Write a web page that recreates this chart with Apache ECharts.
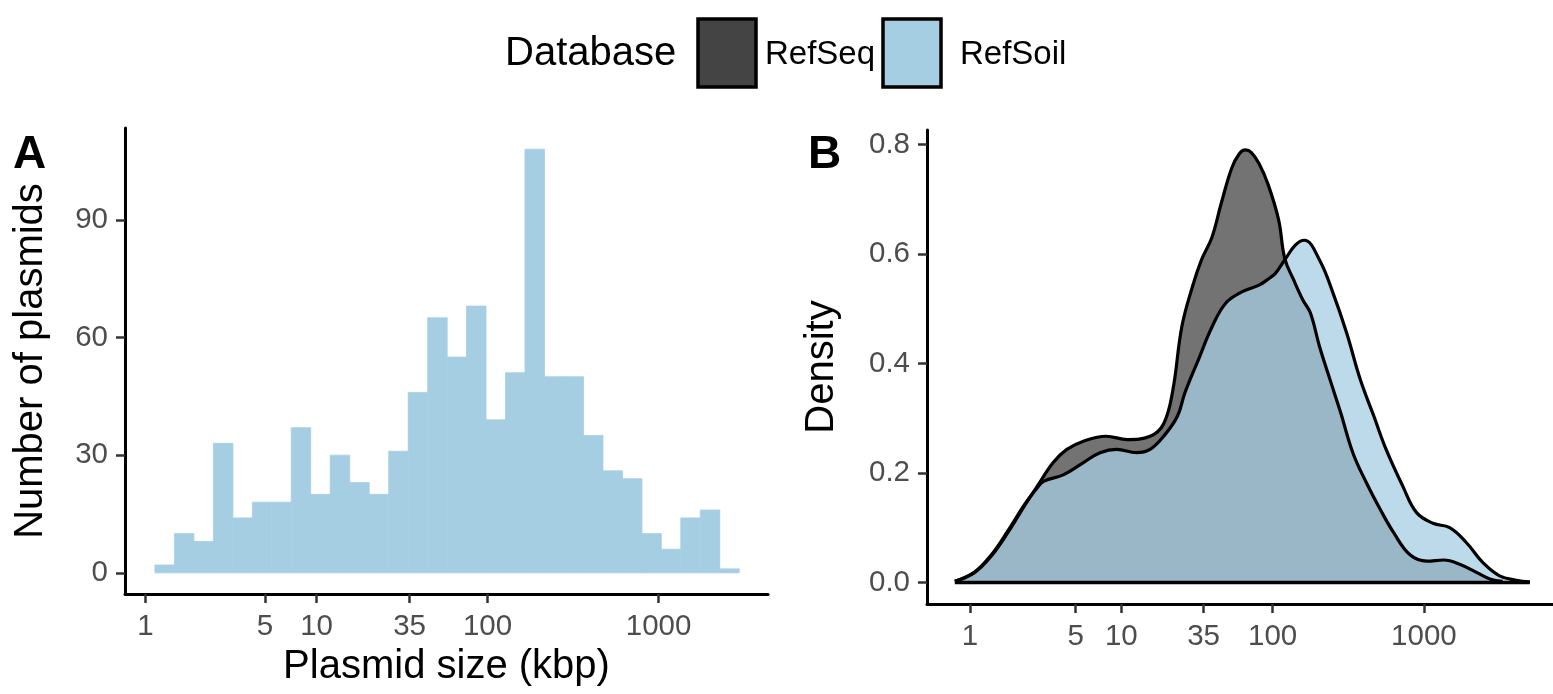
<!DOCTYPE html>
<html>
<head>
<meta charset="utf-8">
<title>Plasmid size distribution</title>
<script src="https://cdn.jsdelivr.net/npm/echarts@6/dist/echarts.min.js"></script>
<style>
    html, body { margin: 0; padding: 0; background: #fff; }
    #main { width: 1553px; height: 694px; }
</style>
</head>
<body>
<div id="main"></div>
<script>
    // x positions are log10(kbp)
    var tickKbp = [1, 5, 10, 35, 100, 1000];
    var countTicks = [0, 30, 60, 90];
    var densityTicks = [0, 0.2, 0.4, 0.6, 0.8];

    // histogram (panel A): bin edges in log10(kbp), counts per bin
    var binEdgesLog10 = [0.055, 0.169, 0.283, 0.397, 0.511, 0.625, 0.738, 0.852, 0.966, 1.080,
        1.194, 1.308, 1.422, 1.536, 1.650, 1.764, 1.877, 1.991, 2.105, 2.219,
        2.333, 2.447, 2.561, 2.675, 2.789, 2.903, 3.016, 3.130, 3.244, 3.358, 3.472];
    var plasmidCounts = [2, 10, 8, 33, 14, 18, 18, 37, 20, 30,
        23, 20, 31, 46, 65, 55, 68, 39, 51, 108,
        50, 50, 35, 26, 24, 10, 6, 14, 16, 1];

    // density (panel B)
    var refSeqX = [-0.10, 0.03, 0.14, 0.25, 0.36, 0.45, 0.55, 0.64, 0.75, 0.90, 1.04, 1.19, 1.28, 1.34,
        1.40, 1.47, 1.53, 1.60, 1.66, 1.73, 1.78, 1.82, 1.86, 1.91, 1.97, 2.04, 2.08, 2.14, 2.20,
        2.25, 2.31, 2.38, 2.45, 2.53, 2.62, 2.71, 2.80, 2.91, 3.02, 3.13, 3.24, 3.35, 3.44, 3.52];
    var refSeqY = [0.002, 0.018, 0.048, 0.091, 0.140, 0.178, 0.219, 0.243, 0.258, 0.267, 0.261, 0.267, 0.290, 0.350,
        0.467, 0.540, 0.589, 0.631, 0.692, 0.757, 0.783, 0.790, 0.785, 0.765, 0.727, 0.662, 0.592, 0.552, 0.516,
        0.492, 0.431, 0.370, 0.310, 0.237, 0.182, 0.134, 0.091, 0.050, 0.039, 0.041, 0.033, 0.018, 0.006, 0.002];
    var refSoilX = [-0.10, 0.03, 0.14, 0.25, 0.36, 0.45, 0.49, 0.62, 0.75, 0.86, 0.97, 1.10, 1.19, 1.28, 1.37,
        1.42, 1.51, 1.60, 1.69, 1.80, 1.91, 1.98, 2.02, 2.08, 2.15, 2.21, 2.31, 2.40, 2.49, 2.58, 2.67,
        2.75, 2.86, 2.95, 3.06, 3.17, 3.28, 3.39, 3.50, 3.61, 3.70];
    var refSoilY = [0.002, 0.019, 0.050, 0.094, 0.142, 0.175, 0.185, 0.197, 0.219, 0.237, 0.243, 0.237, 0.243, 0.267, 0.303,
        0.346, 0.407, 0.467, 0.510, 0.531, 0.543, 0.556, 0.565, 0.589, 0.616, 0.625, 0.589, 0.528, 0.455, 0.370, 0.303,
        0.243, 0.176, 0.128, 0.108, 0.100, 0.073, 0.036, 0.012, 0.004, 0.001];

    var FONT = '"Liberation Sans", Arial, Helvetica, sans-serif';
    var logTicks = tickKbp.map(function (k) { return Math.log10(k); });
    var kbpLabel = function (v) { return String(Math.round(Math.pow(10, v))); };

    var histData = [];
    for (var i = 0; i < plasmidCounts.length; i++) {
        histData.push([binEdgesLog10[i], binEdgesLog10[i + 1], plasmidCounts[i]]);
    }
    function pairs(xs, ys) {
        var out = [];
        for (var i = 0; i < xs.length; i++) out.push([xs[i], ys[i]]);
        return out;
    }
    var baseMin = Math.min(refSeqX[0], refSoilX[0]);
    var baseMax = Math.max(refSeqX[refSeqX.length - 1], refSoilX[refSoilX.length - 1]);

    function xAxisOf(grid, min, max, name, labelMargin) {
        return {
            type: 'value', gridIndex: grid, min: min, max: max,
            name: name, nameLocation: 'middle', nameGap: 50,
            nameTextStyle: {fontSize: 40, color: '#000', fontFamily: FONT},
            axisLine: {onZero: false, lineStyle: {color: '#000', width: 3}},
            axisTick: {customValues: logTicks, length: 9, lineStyle: {color: '#333', width: 2.5}},
            axisLabel: {customValues: logTicks, formatter: kbpLabel, fontSize: 29.5, color: '#4d4d4d',
                fontFamily: FONT, margin: 18},
            splitLine: {show: false}
        };
    }
    function yAxisOf(grid, min, max, ticks, name, gap, fmt) {
        return {
            type: 'value', gridIndex: grid, min: min, max: max,
            name: name, nameLocation: 'middle', nameGap: gap,
            nameTextStyle: {fontSize: 40, color: '#000', fontFamily: FONT},
            axisLine: {show: true, onZero: false, lineStyle: {color: '#000', width: 3}},
            axisTick: {show: true, customValues: ticks, length: 9, lineStyle: {color: '#333', width: 2.5}},
            axisLabel: {customValues: ticks, formatter: fmt, fontSize: 29.5, color: '#4d4d4d',
                fontFamily: FONT, margin: 17},
            splitLine: {show: false}
        };
    }

    var myChart = echarts.init(document.getElementById('main'), null, {renderer: 'canvas'});
    var option = {
        backgroundColor: '#fff',
        animation: false,
        grid: [
            {left: 125, top: 128, width: 643, height: 466},
            {left: 927, top: 130, right: 0, height: 474}
        ],
        xAxis: [
            xAxisOf(0, -0.12, 3.64, 'Plasmid size (kbp)', 18),
            xAxisOf(1, -0.284, 3.853, '', 16)
        ],
        yAxis: [
            yAxisOf(0, -5.4, 113.4, countTicks, 'Number of plasmids', 74, function (v) { return String(v); }),
            yAxisOf(1, -0.03935, 0.82635, densityTicks, 'Density', 85, function (v) { return v.toFixed(1); })
        ],
        graphic: [
            {type: 'text', left: 13, top: 132, style: {text: 'A', font: 'bold 46px ' + FONT, fill: '#000'}},
            {type: 'text', left: 808, top: 132, style: {text: 'B', font: 'bold 46px ' + FONT, fill: '#000'}},
            // legend
            {type: 'text', left: 505, top: 34, style: {text: 'Database', font: '40px ' + FONT, fill: '#000'}},
            {type: 'rect', shape: {x: 698, y: 19, width: 58, height: 68},
                style: {fill: '#444444', stroke: '#000', lineWidth: 3.5}},
            {type: 'text', left: 765, top: 38, style: {text: 'RefSeq', font: '33px ' + FONT, fill: '#000'}},
            {type: 'rect', shape: {x: 883, y: 19, width: 58, height: 68},
                style: {fill: '#a6cee3', stroke: '#000', lineWidth: 3.5}},
            {type: 'text', left: 960, top: 38, style: {text: 'RefSoil', font: '33px ' + FONT, fill: '#000'}}
        ],
        series: [
            {
                type: 'custom', name: 'Plasmids', xAxisIndex: 0, yAxisIndex: 0,
                encode: {x: [0, 1], y: 2},
                data: histData,
                renderItem: function (params, api) {
                    var p0 = api.coord([api.value(0), api.value(2)]);
                    var p1 = api.coord([api.value(1), 0]);
                    return {
                        type: 'rect',
                        shape: {x: p0[0], y: p0[1], width: p1[0] - p0[0], height: p1[1] - p0[1]},
                        style: {fill: '#a6cee3', stroke: '#a6cee3', lineWidth: 0.8}
                    };
                }
            },
            {
                type: 'line', name: 'RefSeq', xAxisIndex: 1, yAxisIndex: 1,
                data: pairs(refSeqX, refSeqY),
                smooth: 0.4, symbol: 'none',
                lineStyle: {color: '#000', width: 3.2},
                areaStyle: {color: '#444444', opacity: 0.75, origin: 'auto'}
            },
            {
                type: 'line', name: 'RefSoil', xAxisIndex: 1, yAxisIndex: 1,
                data: pairs(refSoilX, refSoilY),
                smooth: 0.4, symbol: 'none',
                lineStyle: {color: '#000', width: 3.2},
                areaStyle: {color: '#a6cee3', opacity: 0.75, origin: 'auto'}
            },
            {
                type: 'line', name: 'baseline', xAxisIndex: 1, yAxisIndex: 1,
                data: [[baseMin, 0], [baseMax, 0]],
                symbol: 'none', silent: true,
                lineStyle: {color: '#000', width: 3.5}
            }
        ]
    };
    myChart.setOption(option);
</script>
</body>
</html>
